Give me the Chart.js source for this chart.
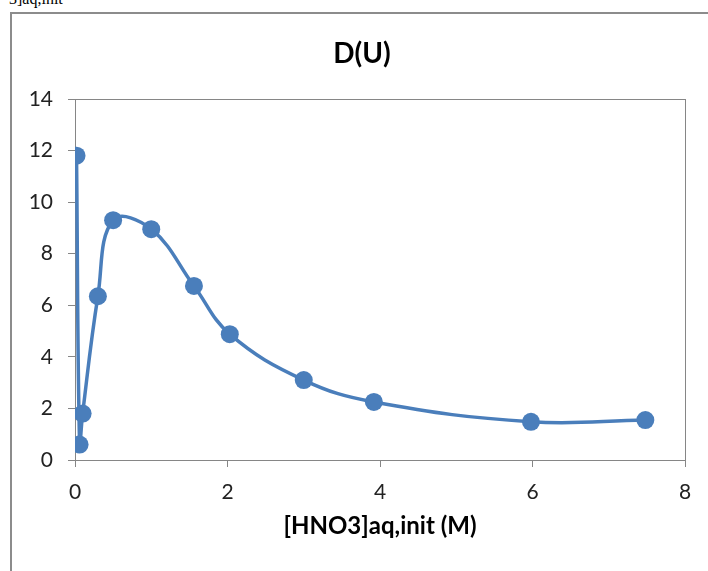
<!DOCTYPE html>
<html>
<head>
<meta charset="utf-8">
<script src="https://cdn.jsdelivr.net/npm/chart.js@4"></script>
<style>
  body { margin: 0; background: #fff; }
  #wrap { position: relative; width: 708px; height: 571px; overflow: hidden; }
  #frame { position: absolute; left: 10px; top: 12px; width: 720px; height: 580px;
           border-left: 2px solid #8c8c8c; border-top: 2px solid #8c8c8c; }
  #cut { position: absolute; left: 9px; top: -10px; font-family: "Liberation Serif", serif;
         font-size: 16px; color: #000; white-space: nowrap; }
  #grafico { position: absolute; left: 0; top: 0; }
</style>
</head>
<body>
<div id="wrap">
  <div id="cut">3]aq,init</div>
  <div id="frame"></div>
  <canvas id="grafico" width="708" height="571"></canvas>
</div>
<script>
// [HNO3] inicial (M) e D(U)
const concHNO3 = [0.02, 0.06, 0.1, 0.3, 0.5, 1.0, 1.56, 2.03, 3.0, 3.92, 5.98, 7.48];
const valoresD = [11.8, 0.6, 1.8, 6.35, 9.3, 8.95, 6.75, 4.88, 3.1, 2.25, 1.48, 1.55];
const ticksY = [0, 2, 4, 6, 8, 10, 12, 14];
const ticksX = [0, 2, 4, 6, 8];
const titulo = 'D(U)';

const azul = '#4a7ebb';
const cinza = '#868686';

const pontos = concHNO3.map((x, i) => ({ x: x, y: valoresD[i] }));

// borda da area do grafico + titulo centrado no quadro do Excel
const bordaArea = {
    id: 'bordaArea',
    beforeDatasetsDraw(chart) {
        const a = chart.chartArea;
        const ctx = chart.ctx;
        ctx.save();
        ctx.strokeStyle = cinza;
        ctx.lineWidth = 1;
        ctx.strokeRect(a.left + 0.5, a.top + 0.5, a.right - a.left, a.bottom - a.top);
        ctx.fillStyle = '#000';
        ctx.font = 'bold 28px Lato';
        ctx.textAlign = 'center';
        ctx.textBaseline = 'middle';
        ctx.fillText(titulo, 362, 54);
        ctx.restore();
    }
};

const grafico = new Chart(document.getElementById("grafico"), {
    type: 'scatter',
    data: {
        datasets: [{
            label: titulo,
            data: pontos,
            showLine: true,
            borderColor: azul,
            backgroundColor: azul,
            borderWidth: 3.5,
            pointRadius: 9,
            pointHoverRadius: 9,
            pointBorderWidth: 0,
            tension: 0.4
        }]
    },
    options: {
        responsive: false,
        animation: false,
        layout: { padding: { left: 0, right: 23, top: 99, bottom: 0 } },
        plugins: {
            legend: { display: false },
            tooltip: { enabled: false },
            title: { display: false }
        },
        scales: {
            x: {
                type: 'linear',
                min: 0, max: 8,
                afterFit(scale) { scale.height = 111; },
                afterBuildTicks(scale) { scale.ticks = ticksX.map(v => ({ value: v })); },
                grid: { drawOnChartArea: false, drawTicks: true, tickLength: 7, color: cinza },
                border: { display: true, color: cinza },
                ticks: { color: '#222', padding: 13, font: { family: 'Lato', size: 21 } },
                title: {
                    display: true,
                    text: '[HNO3]aq,init (M)',
                    color: '#000',
                    font: { family: 'Lato', size: 24, weight: 'bold' },
                    padding: { top: 0, bottom: 30 }
                }
            },
            y: {
                min: 0, max: 14,
                afterFit(scale) { scale.width = 75; },
                afterBuildTicks(scale) { scale.ticks = ticksY.map(v => ({ value: v })); },
                grid: { drawOnChartArea: false, drawTicks: true, tickLength: 7, color: cinza },
                border: { display: true, color: cinza },
                ticks: { color: '#222', padding: 15, font: { family: 'Lato', size: 21 } }
            }
        }
    },
    plugins: [bordaArea]
});
</script>
</body>
</html>
